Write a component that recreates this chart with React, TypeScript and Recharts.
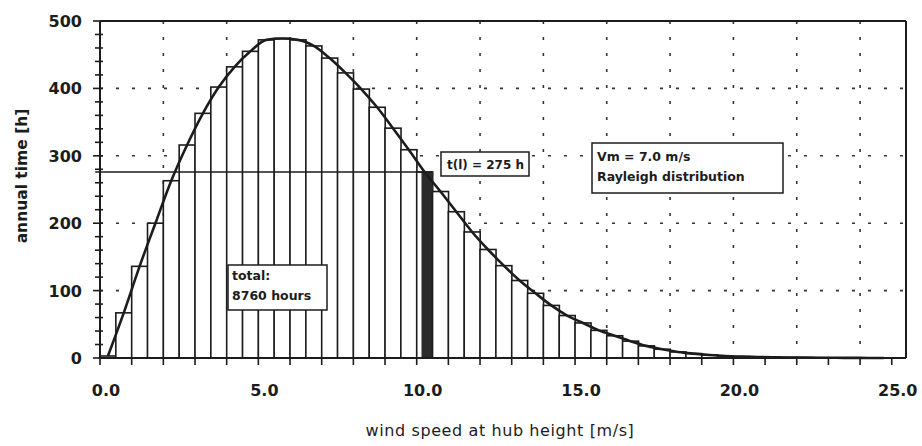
import React from "react";
import {
  ComposedChart,
  Bar,
  Line,
  XAxis,
  YAxis,
  CartesianGrid,
  ReferenceLine,
} from "recharts";

// wind speed classes (bin centres, 0.5 m/s wide)
const binWidth = 0.5;
const speeds = [
  0.25, 0.75, 1.25, 1.75, 2.25, 2.75, 3.25, 3.75, 4.25, 4.75,
  5.25, 5.75, 6.25, 6.75, 7.25, 7.75, 8.25, 8.75, 9.25, 9.75,
  10.25, 10.75, 11.25, 11.75, 12.25, 12.75, 13.25, 13.75, 14.25, 14.75,
  15.25, 15.75, 16.25, 16.75, 17.25, 17.75, 18.25, 18.75, 19.25, 19.75,
  20.25, 20.75, 21.25, 21.75, 22.25, 22.75, 23.25, 23.75, 24.25, 24.75,
];

// annual hours in each class
const hours = [
  3, 67, 136, 200, 263, 316, 363, 402, 432, 455,
  472, 474, 472, 463, 445, 423, 399, 372, 341, 309,
  276, 247, 217, 187, 161, 137, 115, 96, 78, 63,
  52, 41, 33, 25, 18, 13, 9, 6.5, 4.5, 3,
  2, 1.5, 1, 0.8, 0.6, 0.4, 0.3, 0.2, 0.1, 0.1,
];

const xTicks = [
  0, 1, 2, 3, 4, 5, 6, 7, 8, 9, 10, 11, 12, 13, 14, 15, 16, 17, 18, 19, 20,
  21, 22, 23, 24, 25,
];
const xLabelTicks = [0, 5, 10, 15, 20, 25];
const yTicks = [
  0, 20, 40, 60, 80, 100, 120, 140, 160, 180, 200, 220, 240, 260, 280, 300,
  320, 340, 360, 380, 400, 420, 440, 460, 480, 500,
];
const yLabelTicks = [0, 100, 200, 300, 400, 500];
const gridX = [2, 4, 6, 8, 10, 12, 14, 16, 18, 20, 22, 24];
const gridY = [100, 200, 300, 400];

const tl = 276; // t(l) level
const shadeFrom = 10.15; // hatched slice inside the 10.0-10.5 class

const data = speeds.map((s, i) => ({ speed: s, hours: hours[i] }));

const INK = "#1c1c1c";
const FONT = "'DejaVu Sans', sans-serif";

function XTick(props: any) {
  const { x, y, payload } = props;
  if (!xLabelTicks.includes(payload.value)) return null;
  return (
    <text
      x={x + 6}
      y={y + 31}
      textAnchor="middle"
      fontFamily={FONT}
      fontWeight="bold"
      fontSize={16}
      fill={INK}
    >
      {payload.value.toFixed(1)}
    </text>
  );
}

function YTick(props: any) {
  const { x, y, payload } = props;
  const major = yLabelTicks.includes(payload.value);
  return (
    <g>
      <line
        x1={major ? x - 7 : x - 5}
        x2={x + 3}
        y1={y}
        y2={y}
        stroke={INK}
        strokeWidth={1.6}
      />
      {major && (
        <text
          x={x - 18}
          y={y + 6}
          textAnchor="end"
          fontFamily={FONT}
          fontWeight="bold"
          fontSize={16}
          fill={INK}
        >
          {payload.value}
        </text>
      )}
    </g>
  );
}

// white bar; the class holding t(l) gets its dark slice
function ClassBar(props: any) {
  const { x, y, width, height, payload } = props;
  if (!height || height <= 0) return null;
  const lo = payload.speed - binWidth / 2;
  const hi = payload.speed + binWidth / 2;
  const shaded = shadeFrom >= lo && shadeFrom < hi;
  const sx = x + (width * (shadeFrom - lo)) / binWidth;
  return (
    <g>
      <rect x={x} y={y} width={width} height={height} fill="#fff" stroke={INK} strokeWidth={1.6} />
      {shaded && (
        <rect x={sx} y={y} width={x + width - sx} height={height} fill="#2b2b2b" />
      )}
    </g>
  );
}

export default function App() {
  return (
    <div
      style={{
        position: "absolute",
        left: 0,
        top: 0,
        width: 922,
        height: 446,
        background: "#fff",
      }}
    >
      <ComposedChart
        width={922}
        height={446}
        data={data}
        margin={{ top: 21, right: 16, bottom: 28, left: 40 }}
        barCategoryGap={0}
        barGap={0}
      >
        <CartesianGrid
          horizontalValues={gridY}
          verticalValues={gridX}
          stroke="#333"
          strokeWidth={1.6}
          strokeDasharray="3 13"
        />
        <XAxis
          dataKey="speed"
          type="number"
          domain={[0, 25.45]}
          ticks={xTicks}
          interval={0}
          height={60}
          tickSize={7}
          tickMargin={0}
          tick={<XTick />}
          tickLine={{ stroke: INK, strokeWidth: 1.6 }}
          axisLine={{ stroke: INK, strokeWidth: 2 }}
          allowDataOverflow
        />
        <YAxis
          type="number"
          domain={[0, 500]}
          ticks={yTicks}
          interval={0}
          width={60}
          tickSize={0}
          tickMargin={0}
          tick={<YTick />}
          tickLine={false}
          axisLine={{ stroke: INK, strokeWidth: 2 }}
        />
        <Bar
          dataKey="hours"
          shape={<ClassBar />}
          isAnimationActive={false}
        />
        <Line
          dataKey="hours"
          type="monotone"
          stroke={INK}
          strokeWidth={2.6}
          dot={false}
          isAnimationActive={false}
        />
        <ReferenceLine
          segment={[
            { x: -0.15, y: tl },
            { x: 10.5, y: tl },
          ]}
          stroke={INK}
          strokeWidth={1.5}
          ifOverflow="visible"
        />
        <ReferenceLine y={500} stroke={INK} strokeWidth={2} />
        <ReferenceLine x={25.45} stroke={INK} strokeWidth={2} />
      </ComposedChart>

      <svg
        width={922}
        height={446}
        style={{ position: "absolute", left: 0, top: 0, pointerEvents: "none" }}
      >
        <text
          transform="translate(27 176) rotate(-90)"
          textAnchor="middle"
          fontFamily={FONT}
          fontWeight="bold"
          fontSize={15.5}
          fill={INK}
        >
          annual time [h]
        </text>
        <text
          x={500}
          y={436}
          textAnchor="middle"
          fontFamily={FONT}
          fontSize={16}
          letterSpacing={0.6}
          fill={INK}
        >
          wind speed at hub height [m/s]
        </text>

        <rect x={441} y={152} width={88} height={24} fill="#fff" stroke={INK} strokeWidth={1.5} />
        <text x={447} y={169} fontFamily={FONT} fontWeight="bold" fontSize={12} fill={INK}>
          t(l) = 275 h
        </text>

        <rect x={592} y={143} width={191} height={50} fill="#fff" stroke={INK} strokeWidth={1.5} />
        <text x={597} y={161} fontFamily={FONT} fontWeight="bold" fontSize={12.5} fill={INK}>
          Vm = 7.0 m/s
        </text>
        <text x={597} y={181} fontFamily={FONT} fontWeight="bold" fontSize={12.5} fill={INK}>
          Rayleigh distribution
        </text>

        <rect x={228} y={265} width={99} height={45} fill="#fff" stroke={INK} strokeWidth={1.5} />
        <text x={232} y={280} fontFamily={FONT} fontWeight="bold" fontSize={12.5} fill={INK}>
          total:
        </text>
        <text x={232} y={300} fontFamily={FONT} fontWeight="bold" fontSize={12.5} fill={INK}>
          8760 hours
        </text>
      </svg>
    </div>
  );
}
